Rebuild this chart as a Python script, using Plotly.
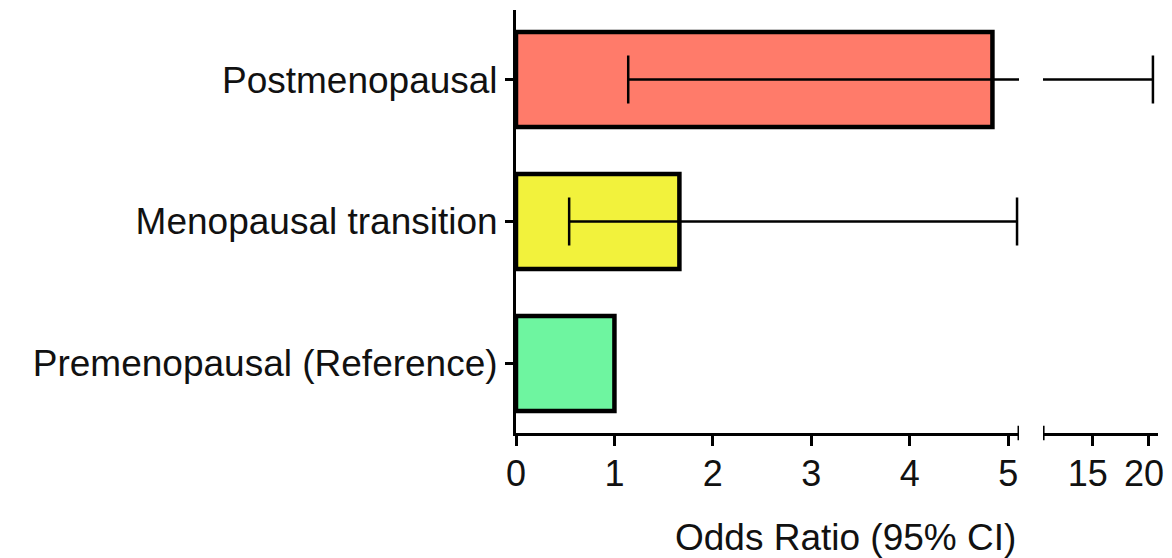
import plotly.graph_objects as go

categories = ["Premenopausal (Reference)", "Menopausal transition", "Postmenopausal"]
odds_ratio = [1.0, 1.66, 4.84]
ci_lower = [1.0, 0.54, 1.14]
ci_upper = [1.0, 5.09, 20.35]
bar_colors = ["#6EF5A0", "#F2F23C", "#FF7B6A"]

x1_ticks = [0, 1, 2, 3, 4, 5]
x2_ticks = [15, 20]
x1_range = [0, 5.11]
x2_range = [10.6, 20.8]

err_plus = [u - v for u, v in zip(ci_upper, odds_ratio)]
err_minus = [v - l for v, l in zip(odds_ratio, ci_lower)]

FONT = "Liberation Sans, Arial, sans-serif"
W, H = 1172, 558

fig = go.Figure()
for xa in ["x", "x2"]:
    fig.add_trace(go.Bar(
        x=odds_ratio, y=categories, orientation="h", xaxis=xa, yaxis="y",
        width=0.67,
        marker=dict(color=bar_colors, line=dict(color="black", width=4.5)),
        error_x=dict(type="data", symmetric=False, array=err_plus, arrayminus=err_minus,
                     color="black", thickness=2.5, width=24),
        showlegend=False, hoverinfo="x+y",
    ))

axis_common = dict(showline=True, linecolor="black", linewidth=3, ticks="outside",
                   ticklen=10, tickwidth=2.5, tickcolor="black", showgrid=False,
                   zeroline=False, tickfont=dict(family=FONT, size=36, color="#111111"),
                   ticklabelstandoff=-3, fixedrange=True, automargin=False)

fig.update_layout(
    width=W, height=H, autosize=False,
    margin=dict(l=516, r=14, t=10, b=125),
    paper_bgcolor="white", plot_bgcolor="white",
    xaxis=dict(domain=[0, 0.7835], range=x1_range, tickmode="array", tickvals=x1_ticks,
               anchor="y", **axis_common),
    xaxis2=dict(domain=[0.821, 1], range=x2_range, tickmode="array", tickvals=x2_ticks,
                anchor="y", ticklabelshift=-5, **axis_common),
    yaxis=dict(type="category", categoryorder="array", categoryarray=categories,
               range=[-0.49, 2.49], showline=True, linecolor="black", linewidth=3,
               ticks="outside", ticklen=8, tickwidth=2.5, tickcolor="black",
               showgrid=False, zeroline=False, anchor="x", automargin=False,
               tickfont=dict(family=FONT, size=37, color="#111111"), fixedrange=True),
    annotations=[dict(text="Odds Ratio (95% CI)", xref="paper", yref="paper",
                      x=0.514, y=-0.246, xanchor="center", yanchor="middle",
                      showarrow=False, font=dict(family=FONT, size=37, color="#111111"))],
    shapes=[
        dict(type="line", xref="x", yref="paper", x0=x1_range[1], x1=x1_range[1],
             y0=-0.017, y1=0.017, line=dict(color="black", width=3)),
        dict(type="line", xref="x2", yref="paper", x0=x2_range[0], x1=x2_range[0],
             y0=-0.017, y1=0.017, line=dict(color="black", width=3)),
    ],
)

post = ("document.body.style.margin='0';document.body.style.overflow='hidden';"
        "var gd=document.getElementById('{plot_id}');"
        "Plotly.relayout(gd,{width:%d,height:%d});" % (W, H))

fig.write_html("out.html", config={"displayModeBar": False, "responsive": False},
               post_script=post)
